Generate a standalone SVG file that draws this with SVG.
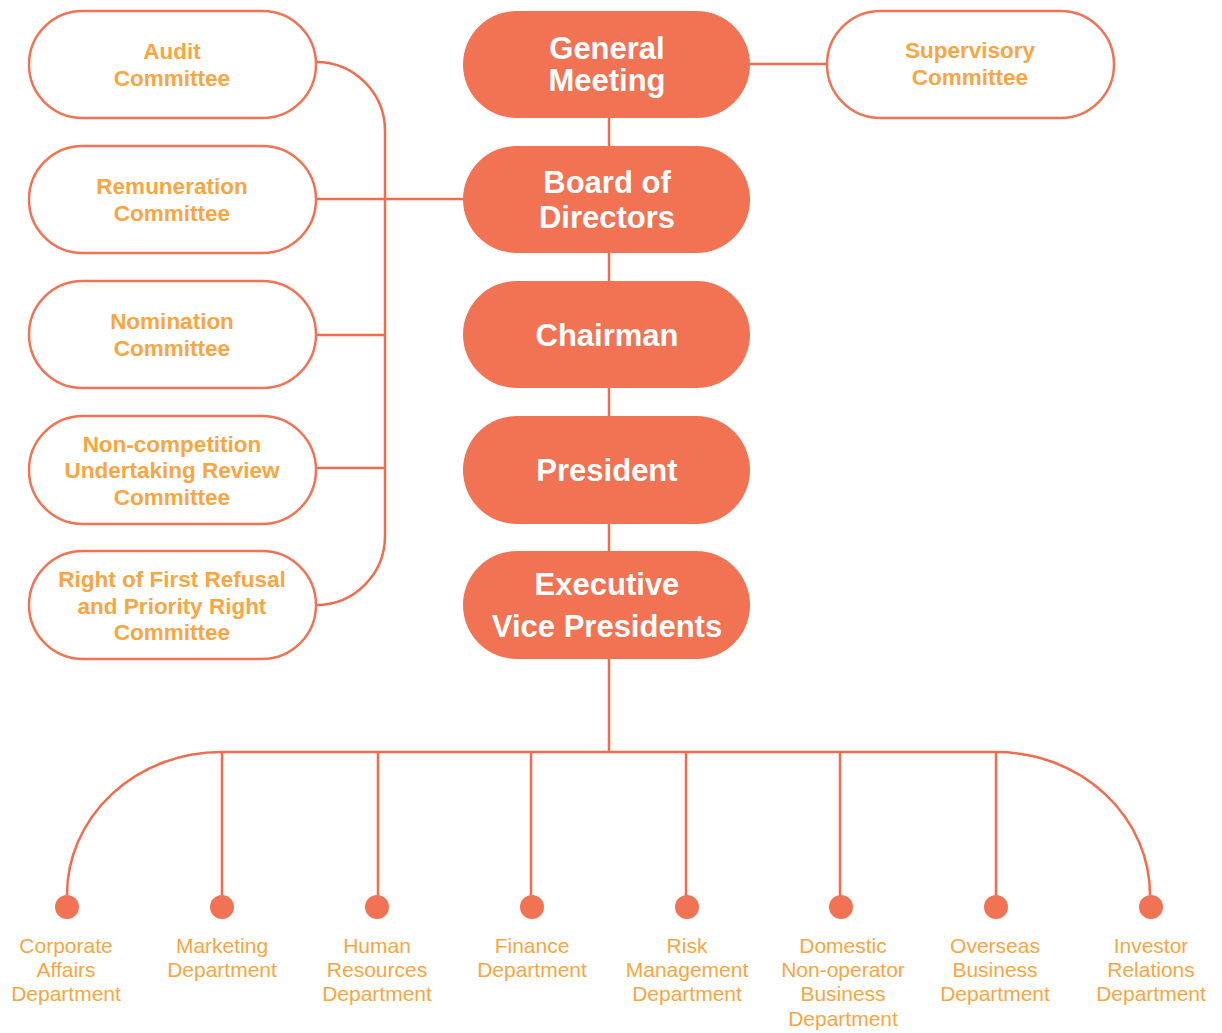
<svg xmlns="http://www.w3.org/2000/svg" width="1222" height="1033" viewBox="0 0 1222 1033">
<style>
.fill{fill:#F27254;stroke:none}
.out{fill:#fff;stroke:#F27254;stroke-width:2.5}
.ln{fill:none;stroke:#F26B4E;stroke-width:2.5}
.wt{font-family:"Liberation Sans",Arial,sans-serif;font-weight:bold;fill:#fff;text-anchor:middle;font-size:31px}
.ct{font-family:"Liberation Sans",Arial,sans-serif;font-weight:bold;fill:#F9A541;text-anchor:middle;font-size:22.5px}
.dt{font-family:"Liberation Sans",Arial,sans-serif;fill:#F9A541;text-anchor:middle;font-size:21px}
.dot{fill:#F27254}
</style>
<rect width="1222" height="1033" fill="#fff"/>
<g id="connectors">
<path class="ln" d="M316,62 A69,69 0 0 1 385,131 V536 A69,69 0 0 1 316,605"/>
<path class="ln" d="M316,199 H463"/>
<path class="ln" d="M316,335 H385"/>
<path class="ln" d="M316,468 H385"/>
<path class="ln" d="M750,64 H827"/>
<path class="ln" d="M609,118 V752"/>
<path class="ln" d="M67,895 A154,143 0 0 1 221,752 H996 A154,143 0 0 1 1150,895"/>
<path class="ln" d="M222,752 V900 M378,752 V900 M531,752 V900 M686,752 V900 M840,752 V900 M996,752 V900"/>
</g>
<g id="general-meeting"><rect class="fill" x="463" y="11" width="287" height="107" rx="53.5"/><text class="wt" x="607" y="59">General</text><text class="wt" x="607" y="91">Meeting</text></g>
<g id="board"><rect class="fill" x="463" y="146" width="287" height="107" rx="53.5"/><text class="wt" x="607" y="193">Board of</text><text class="wt" x="607" y="228">Directors</text></g>
<g id="chairman"><rect class="fill" x="463" y="281" width="287" height="107" rx="53.5"/><text class="wt" x="607" y="346">Chairman</text></g>
<g id="president"><rect class="fill" x="463" y="416" width="287" height="108" rx="54"/><text class="wt" x="607" y="481">President</text></g>
<g id="evp"><rect class="fill" x="463" y="551" width="287" height="108" rx="54"/><text class="wt" x="607" y="595">Executive</text><text class="wt" x="607" y="637">Vice Presidents</text></g>
<g id="supervisory"><rect class="out" x="827" y="11" width="287" height="107" rx="53.5"/><text class="ct" x="970" y="58">Supervisory</text><text class="ct" x="970" y="85">Committee</text></g>
<g id="audit"><rect class="out" x="29" y="11" width="287" height="107" rx="53.5"/><text class="ct" x="172" y="59">Audit</text><text class="ct" x="172" y="86">Committee</text></g>
<g id="remuneration"><rect class="out" x="29" y="146" width="287" height="107" rx="53.5"/><text class="ct" x="172" y="194">Remuneration</text><text class="ct" x="172" y="221">Committee</text></g>
<g id="nomination"><rect class="out" x="29" y="281" width="287" height="107" rx="53.5"/><text class="ct" x="172" y="329">Nomination</text><text class="ct" x="172" y="356">Committee</text></g>
<g id="noncompetition"><rect class="out" x="29" y="416" width="287" height="108" rx="54"/><text class="ct" x="172" y="452">Non-competition</text><text class="ct" x="172" y="478">Undertaking Review</text><text class="ct" x="172" y="505">Committee</text></g>
<g id="rofr"><rect class="out" x="29" y="551" width="287" height="108" rx="54"/><text class="ct" x="172" y="587">Right of First Refusal</text><text class="ct" x="172" y="614">and Priority Right</text><text class="ct" x="172" y="640">Committee</text></g>
<g id="dept-corporate"><circle class="dot" cx="67" cy="907" r="12"/><text class="dt" x="66" y="953">Corporate</text><text class="dt" x="66" y="977">Affairs</text><text class="dt" x="66" y="1001">Department</text></g>
<g id="dept-marketing"><circle class="dot" cx="222" cy="907" r="12"/><text class="dt" x="222" y="953">Marketing</text><text class="dt" x="222" y="977">Department</text></g>
<g id="dept-hr"><circle class="dot" cx="377" cy="907" r="12"/><text class="dt" x="377" y="953">Human</text><text class="dt" x="377" y="977">Resources</text><text class="dt" x="377" y="1001">Department</text></g>
<g id="dept-finance"><circle class="dot" cx="532" cy="907" r="12"/><text class="dt" x="532" y="953">Finance</text><text class="dt" x="532" y="977">Department</text></g>
<g id="dept-risk"><circle class="dot" cx="687" cy="907" r="12"/><text class="dt" x="687" y="953">Risk</text><text class="dt" x="687" y="977">Management</text><text class="dt" x="687" y="1001">Department</text></g>
<g id="dept-domestic"><circle class="dot" cx="841" cy="907" r="12"/><text class="dt" x="843" y="953">Domestic</text><text class="dt" x="843" y="977">Non-operator</text><text class="dt" x="843" y="1001">Business</text><text class="dt" x="843" y="1026">Department</text></g>
<g id="dept-overseas"><circle class="dot" cx="996" cy="907" r="12"/><text class="dt" x="995" y="953">Overseas</text><text class="dt" x="995" y="977">Business</text><text class="dt" x="995" y="1001">Department</text></g>
<g id="dept-ir"><circle class="dot" cx="1151" cy="907" r="12"/><text class="dt" x="1151" y="953">Investor</text><text class="dt" x="1151" y="977">Relations</text><text class="dt" x="1151" y="1001">Department</text></g>
</svg>
